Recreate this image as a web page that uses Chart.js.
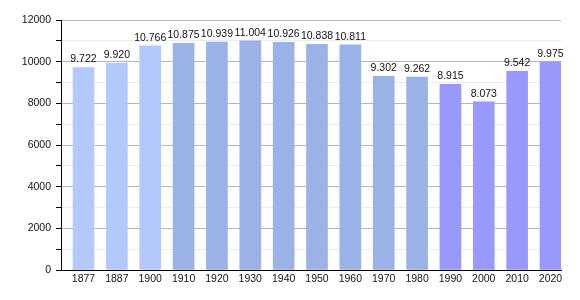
<!DOCTYPE html>
<html>
<head>
<meta charset="utf-8">
<script src="https://cdn.jsdelivr.net/npm/chart.js@4"></script>
<style>
    html, body { margin: 0; padding: 0; background: #fff; }
    #wrap { width: 580px; height: 300px; }
</style>
</head>
<body>
<div id="wrap"><canvas id="popChart" width="580" height="300"></canvas></div>
<script>
// Census years and population
const years = ['1877', '1887', '1900', '1910', '1920', '1930', '1940', '1950', '1960', '1970', '1980', '1990', '2000', '2010', '2020'];
const population = [9722, 9920, 10766, 10875, 10939, 11004, 10926, 10838, 10811, 9302, 9262, 8915, 8073, 9542, 9975];
const barColors = [
    '#b3c9fb', '#b3c9fb', '#b3c9fb',
    '#9ab2e6', '#9ab2e6', '#9ab2e6', '#9ab2e6', '#9ab2e6', '#9ab2e6', '#9ab2e6', '#9ab2e6',
    '#9999fb', '#9999fb', '#9999fb', '#9999fb'
];
const yTicks = [0, 2000, 4000, 6000, 8000, 10000, 12000];

const FONT = 'Liberation Sans, Arial, sans-serif';

/**
 * Formats a number with dots as thousands separator
 */
function formatValue(v) {
    return String(v).replace(/\B(?=(\d{3})+(?!\d))/g, '.');
}

// Draws the value above each bar
const valueLabels = {
    id: 'valueLabels',
    afterDatasetsDraw(chart) {
        const ctx = chart.ctx;
        const meta = chart.getDatasetMeta(0);
        ctx.save();
        ctx.font = '10.5px ' + FONT;
        ctx.fillStyle = '#111';
        ctx.textAlign = 'center';
        ctx.textBaseline = 'alphabetic';
        meta.data.forEach((bar, i) => {
            ctx.fillText(formatValue(population[i]), bar.x, bar.y - 5);
        });
        ctx.restore();
    }
};

const ctx = document.getElementById('popChart').getContext('2d');
new Chart(ctx, {
    type: 'bar',
    data: {
        datasets: [{
            data: population.map((v, i) => ({ x: i, y: v })),
            backgroundColor: barColors,
            borderWidth: 0,
            barThickness: 21
        }]
    },
    options: {
        responsive: false,
        animation: false,
        layout: { padding: { top: 20, right: 19, left: 0, bottom: 0 } },
        plugins: {
            legend: { display: false },
            tooltip: { enabled: false }
        },
        scales: {
            x: {
                type: 'linear',
                offset: false,
                min: -0.6745,
                max: 14.3148,
                afterBuildTicks: axis => { axis.ticks = years.map((y, i) => ({ value: i })); },
                afterFit: axis => { axis.height = 30; },
                grid: { display: false, drawTicks: false, tickLength: 0, offset: false },
                border: { display: true, color: '#000', width: 1 },
                ticks: {
                    padding: 3,
                    maxRotation: 0,
                    autoSkip: false,
                    color: '#111',
                    font: { family: FONT, size: 10.5 },
                    callback: value => years[value]
                }
            },
            y: {
                min: 0,
                max: 12000,
                afterBuildTicks: axis => {
                    const t = [];
                    for (let v = 0; v <= 12000; v += 1000) t.push({ value: v });
                    axis.ticks = t;
                },
                afterFit: axis => { axis.width = 61; },
                grid: {
                    color: c => (c.tick && c.tick.value % 2000 === 0) ? '#b5b5b5' : '#ebebeb',
                    tickColor: '#000',
                    tickLength: 5,
                    lineWidth: 1
                },
                border: { display: true, color: '#000', width: 1 },
                ticks: {
                    padding: 5,
                    color: '#111',
                    font: { family: FONT, size: 10.5 },
                    callback: value => yTicks.includes(value) ? String(value) : ''
                }
            }
        }
    },
    plugins: [valueLabels]
});
</script>
</body>
</html>
